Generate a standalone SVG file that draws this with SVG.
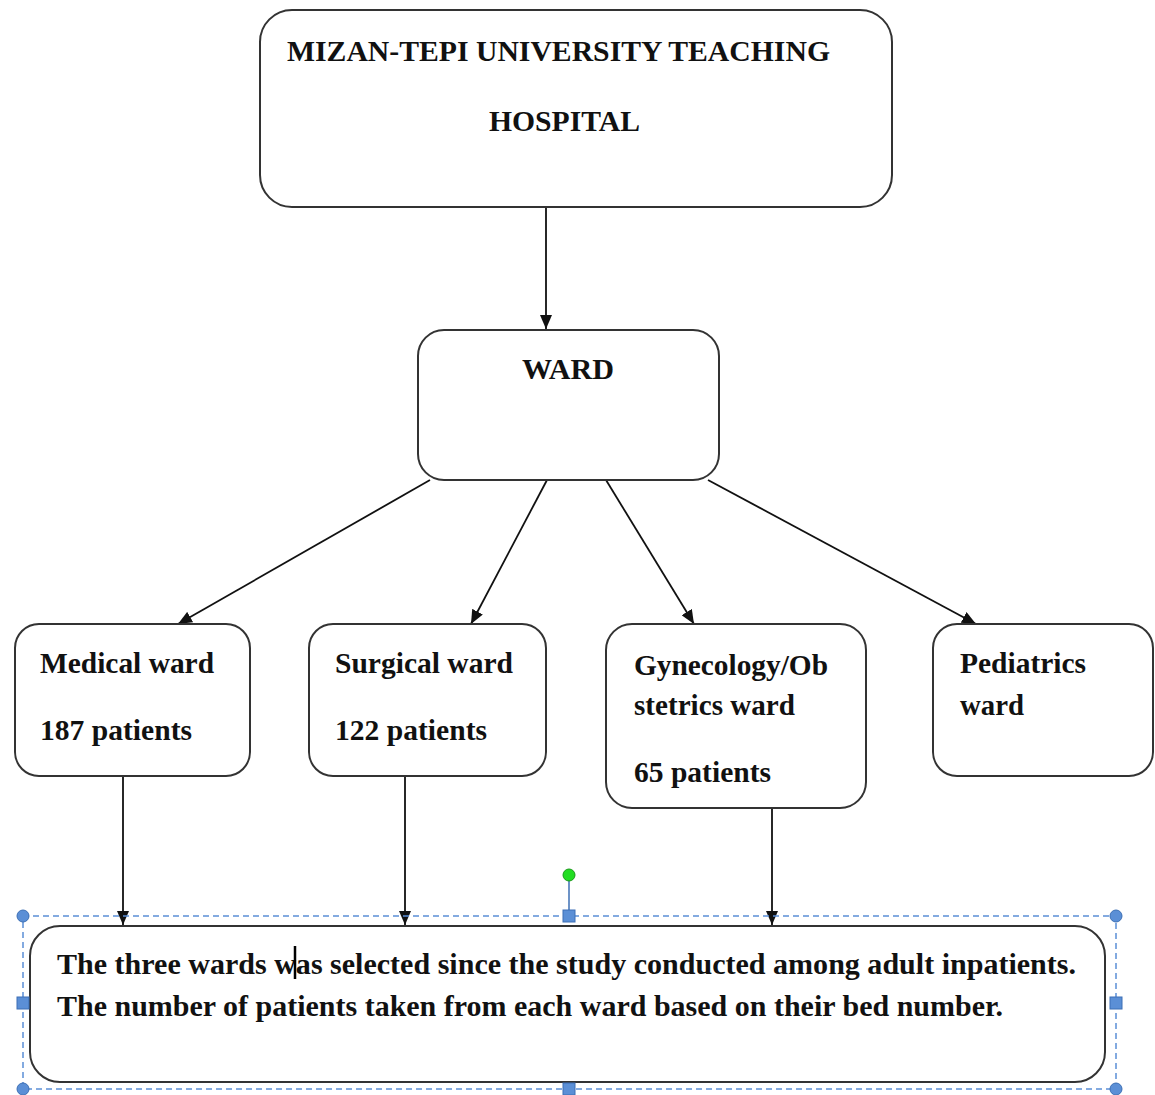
<svg xmlns="http://www.w3.org/2000/svg" width="1155" height="1095" viewBox="0 0 1155 1095">
<defs>
<style>
.box{fill:#fff;stroke:#333;stroke-width:2}
.t{font-family:"Liberation Serif","Times New Roman",serif;font-weight:bold;fill:#111;font-size:30px}
.c{stroke:#111;stroke-width:1.8;fill:none;marker-end:url(#ah)}
.sel{fill:none;stroke:#5b8fd6;stroke-width:1.5;stroke-dasharray:6 4}
.h{fill:#5b8fd6;stroke:#3c6fb5;stroke-width:1}
</style>
<marker id="ah" viewBox="0 0 14 12" refX="14" refY="6" markerWidth="14" markerHeight="12" markerUnits="userSpaceOnUse" orient="auto">
<path d="M0,0 L14,6 L0,12 Z" fill="#111"/>
</marker>
</defs>
<rect width="1155" height="1095" fill="#fff"/>

<g id="connectors">
<line class="c" x1="546" y1="207" x2="546" y2="329"/>
<line class="c" x1="430" y1="480" x2="178" y2="624"/>
<line class="c" x1="547" y1="480" x2="471" y2="624"/>
<line class="c" x1="606" y1="480" x2="694" y2="624"/>
<line class="c" x1="708" y1="480" x2="976" y2="624"/>
<line class="c" x1="123" y1="776" x2="123" y2="925"/>
<line class="c" x1="405" y1="776" x2="405" y2="925"/>
<line class="c" x1="772" y1="808" x2="772" y2="925"/>
</g>

<g id="hospital">
<rect class="box" x="260" y="10" width="632" height="197" rx="32"/>
<text class="t" x="287" y="61" font-size="32" textLength="543" lengthAdjust="spacingAndGlyphs">MIZAN-TEPI UNIVERSITY  TEACHING</text>
<text class="t" x="489" y="131" font-size="32" textLength="151" lengthAdjust="spacingAndGlyphs">HOSPITAL</text>
</g>

<g id="ward">
<rect class="box" x="418" y="330" width="301" height="150" rx="26"/>
<text class="t" x="522" y="379" textLength="92" lengthAdjust="spacingAndGlyphs">WARD</text>
</g>

<g id="medical">
<rect class="box" x="15" y="624" width="235" height="152" rx="24"/>
<text class="t" x="40" y="673" textLength="174" lengthAdjust="spacingAndGlyphs">Medical ward</text>
<text class="t" x="40" y="740" textLength="152" lengthAdjust="spacingAndGlyphs">187 patients</text>
</g>

<g id="surgical">
<rect class="box" x="309" y="624" width="237" height="152" rx="24"/>
<text class="t" x="335" y="673" textLength="178" lengthAdjust="spacingAndGlyphs">Surgical ward</text>
<text class="t" x="335" y="740" textLength="152" lengthAdjust="spacingAndGlyphs">122 patients</text>
</g>

<g id="gynecology">
<rect class="box" x="606" y="624" width="260" height="184" rx="26"/>
<text class="t" x="634" y="675" textLength="194" lengthAdjust="spacingAndGlyphs">Gynecology/Ob</text>
<text class="t" x="634" y="715" textLength="161" lengthAdjust="spacingAndGlyphs">stetrics ward</text>
<text class="t" x="634" y="782" textLength="137" lengthAdjust="spacingAndGlyphs">65 patients</text>
</g>

<g id="pediatrics">
<rect class="box" x="933" y="624" width="220" height="152" rx="24"/>
<text class="t" x="960" y="673" textLength="126" lengthAdjust="spacingAndGlyphs">Pediatrics</text>
<text class="t" x="960" y="715" textLength="64" lengthAdjust="spacingAndGlyphs">ward</text>
</g>

<g id="note">
<rect class="box" x="30" y="926" width="1075" height="156" rx="30"/>
<text class="t" x="57" y="974" textLength="1019" lengthAdjust="spacingAndGlyphs">The three wards was selected since the study conducted among adult inpatients.</text>
<text class="t" x="57" y="1016" textLength="946" lengthAdjust="spacingAndGlyphs">The number of patients taken from each ward based on their bed number.</text>
<line x1="295" y1="946" x2="295" y2="979" stroke="#000" stroke-width="2.5"/>
</g>

<g id="selection">
<rect class="sel" x="23" y="916" width="1093" height="173"/>
<line x1="569" y1="875" x2="569" y2="916" stroke="#3c6fb5" stroke-width="1.5"/>
<circle cx="569" cy="875" r="6" fill="#22dd22" stroke="#1a9a1a" stroke-width="1"/>
<circle class="h" cx="23" cy="916" r="6"/>
<circle class="h" cx="1116" cy="916" r="6"/>
<circle class="h" cx="23" cy="1089" r="6"/>
<circle class="h" cx="1116" cy="1089" r="6"/>
<rect class="h" x="563" y="910" width="12" height="12"/>
<rect class="h" x="563" y="1083" width="12" height="12"/>
<rect class="h" x="17" y="997" width="12" height="12"/>
<rect class="h" x="1110" y="997" width="12" height="12"/>
</g>
</svg>
